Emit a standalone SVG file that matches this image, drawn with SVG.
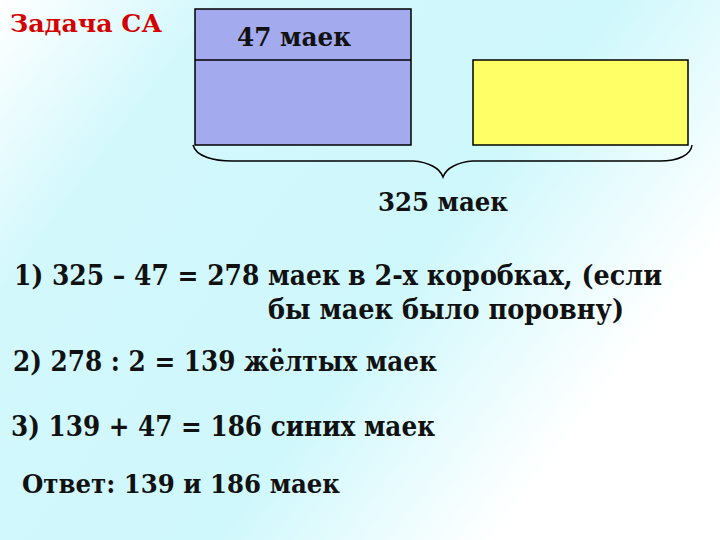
<svg xmlns="http://www.w3.org/2000/svg" width="720" height="540" viewBox="0 0 720 540">
<defs>
<linearGradient id="bg" gradientUnits="userSpaceOnUse" x1="0" y1="0" x2="720" y2="540">
<stop offset="0" stop-color="#ffffff"/>
<stop offset="0.2" stop-color="#d2f8fc"/>
<stop offset="0.55" stop-color="#cff8fc"/>
<stop offset="0.8" stop-color="#ffffff"/>
<stop offset="1" stop-color="#ffffff"/>
</linearGradient>
<style>
text{font-family:"DejaVu Serif","Liberation Serif",serif;font-weight:bold;fill:#111111;}
.box{stroke:#000000;stroke-width:1.5;}
</style>
</defs>
<rect width="720" height="540" fill="url(#bg)"/>
<g id="title"><text x="10" y="32" font-family="DejaVu Serif, serif" font-weight="bold" font-size="25" style="fill:#d40000" textLength="152" lengthAdjust="spacingAndGlyphs">Задача СА</text></g>
<g id="blue-box">
<rect class="box" x="195" y="9" width="216" height="136" fill="#a4aaee"/>
<line x1="195" y1="60" x2="411" y2="60" stroke="#000" stroke-width="1.5"/>
<text x="237" y="46" font-family="DejaVu Serif, serif" font-weight="bold" font-size="26" textLength="114" lengthAdjust="spacingAndGlyphs">47 маек</text>
</g>
<g id="yellow-box">
<rect class="box" x="473" y="60" width="215" height="85" fill="#ffff66"/>
</g>
<g id="connectors">
<path d="M193,145 C196,157 215,161 232,161 L413,161 C428,162 440,168 443,177 C446,168 458,162 473,161 L660,161 C678,161 691,155 692,145" fill="none" stroke="#000" stroke-width="1.5"/>
</g>
<g id="total"><text x="378" y="211" font-family="DejaVu Serif, serif" font-weight="bold" font-size="26" textLength="130" lengthAdjust="spacingAndGlyphs">325 маек</text></g>
<g id="steps">
<text x="14" y="285" font-family="DejaVu Serif, serif" font-weight="bold" font-size="28" textLength="326" lengthAdjust="spacingAndGlyphs">1)  325 – 47 = 278 маек</text>
<text x="348" y="285" font-family="DejaVu Serif, serif" font-weight="bold" font-size="28" textLength="314" lengthAdjust="spacingAndGlyphs">в 2-х коробках, (если</text>
<text x="268" y="319" font-family="DejaVu Serif, serif" font-weight="bold" font-size="28" textLength="356" lengthAdjust="spacingAndGlyphs">бы маек было поровну)</text>
<text x="13" y="371" font-family="DejaVu Serif, serif" font-weight="bold" font-size="28" textLength="424" lengthAdjust="spacingAndGlyphs">2)  278 : 2 = 139 жёлтых маек</text>
<text x="11" y="436" font-family="DejaVu Serif, serif" font-weight="bold" font-size="28" textLength="424" lengthAdjust="spacingAndGlyphs">3)  139 + 47 = 186 синих маек</text>
<text x="22" y="493" font-family="DejaVu Serif, serif" font-weight="bold" font-size="26" textLength="318" lengthAdjust="spacingAndGlyphs">Ответ: 139 и 186 маек</text>
</g>
</svg>
